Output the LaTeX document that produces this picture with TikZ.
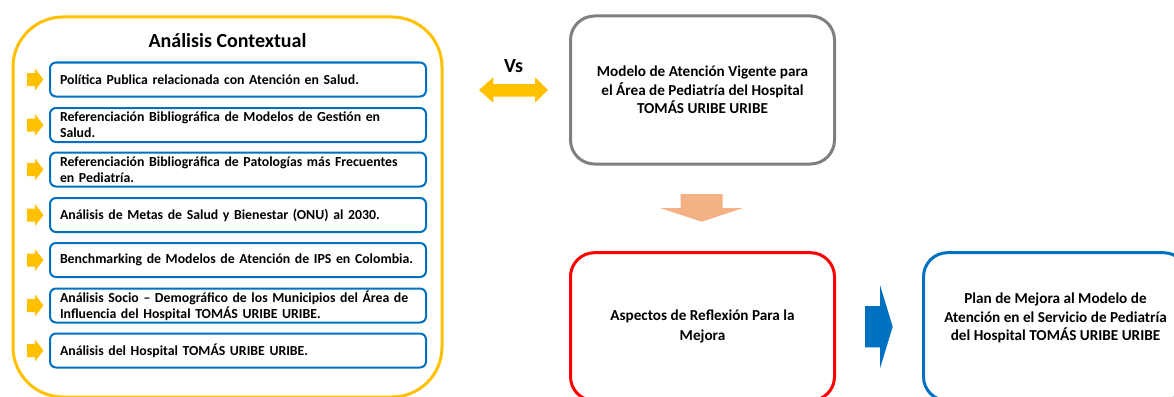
\documentclass[tikz,border=0pt]{standalone}
\usepackage{fontspec}
\setmainfont{Carlito}
\definecolor{cyellow}{HTML}{FFC000}
\definecolor{cblue}{HTML}{0070C0}
\definecolor{cred}{HTML}{FF0000}
\definecolor{cgray}{HTML}{7F7F7F}
\definecolor{cpeach}{HTML}{F4B183}
\begin{document}
\begin{tikzpicture}[x=1pt,y=-1pt,
  listbox/.style={draw=cblue, line width=2pt, rounded corners=6pt, minimum width=376pt, minimum height=34pt, text width=356pt, inner xsep=10pt, inner ysep=0pt, outer sep=0pt, align=left, font=\fontsize{13.8}{16}\selectfont\bfseries},
  bigbox/.style={line width=3pt, rounded corners=24pt, minimum width=264pt, minimum height=148pt, inner sep=0pt, align=center, font=\fontsize{15.2}{18.7}\selectfont\bfseries},
  bullet/.style={fill=cyellow},
]
\useasboundingbox (0,0) rectangle (1174,396);
\clip (0,0) rectangle (1174,396);
% context box
\node[draw=cyellow, line width=3pt, rounded corners=50pt, minimum width=429pt, minimum height=380pt] (ctx) at (227.5,207) {};
\node[font=\fontsize{20}{24}\selectfont\bfseries] (title) at (227.5,40.5) {Análisis Contextual};
\node[listbox] (b1) at (238,79.5) {Política Publica relacionada con Atención en Salud.};
\node[listbox] (b2) at (238,125) {Referenciación Bibliográfica de Modelos de Gestión en\\Salud.};
\node[listbox] (b3) at (238,169.5) {Referenciación Bibliográfica de Patologías más Frecuentes\\en Pediatría.};
\node[listbox] (b4) at (238,215) {Análisis de Metas de Salud y Bienestar (ONU) al 2030.};
\node[listbox] (b5) at (238,260) {Benchmarking de Modelos de Atención de IPS en Colombia.};
\node[listbox] (b6) at (238,305.5) {Análisis Socio – Demográfico de los Municipios del Área de\\Influencia del Hospital TOMÁS URIBE URIBE.};
\node[listbox] (b7) at (238,350.5) {Análisis del Hospital TOMÁS URIBE URIBE.};
\foreach \i in {1,...,7} {
  \begin{scope}[shift={(b\i.west)}]
    \fill[bullet] (-23,-6.5) -- (-15,-6.5) -- (-15,-11) -- (-6.5,0) -- (-15,11) -- (-15,6.5) -- (-23,6.5) -- cycle;
  \end{scope}
}
% Vs
\node[font=\fontsize{20}{24}\selectfont\bfseries] (vs) at (513.5,66) {Vs};
\fill[cyellow] (479,90) -- (493.3,77.3) -- (493.3,84) -- (535,84) -- (535,77.3) -- (548,90) -- (535,102.7) -- (535,96.7) -- (493.3,96.7) -- (493.3,102.7) -- cycle;
% model box
\node[bigbox, draw=cgray] (model) at (702.5,90) {Modelo de Atención Vigente para\\el Área de Pediatría del Hospital\\TOMÁS URIBE URIBE};
% peach arrow
\fill[cpeach] (680.7,194) -- (722.7,194) -- (722.7,208) -- (743,208) -- (701.7,221.7) -- (660,208) -- (680.7,208) -- cycle;
% red box
\node[bigbox, draw=cred, font=\fontsize{15.2}{20}\selectfont\bfseries] (asp) at (702.5,326.7) {Aspectos de Reflexión Para la\\Mejora};
% blue arrow
\fill[cblue] (865,306) -- (880,306) -- (880,285) -- (892.7,326.7) -- (880,368.3) -- (880,347.3) -- (865,347.3) -- cycle;
% plan box
\node[bigbox, draw=cblue] (plan) at (1055.5,326.7) {};
\node[align=center, font=\fontsize{15.2}{18.7}\selectfont\bfseries] (plantxt) at (1055.5,318) {Plan de Mejora al Modelo de\\Atención en el Servicio de Pediatría\\del Hospital TOMÁS URIBE URIBE};
\end{tikzpicture}
\end{document}
